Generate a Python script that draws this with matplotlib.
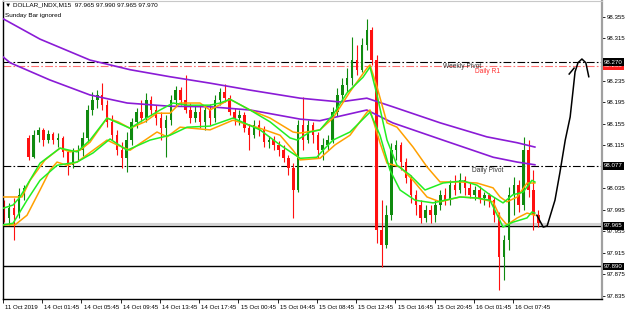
import matplotlib
matplotlib.use("Agg")
import matplotlib.pyplot as plt
import matplotlib.transforms as mtransforms

plt.rcParams['font.family'] = ['Liberation Sans', 'DejaVu Sans']

# DOLLAR_INDX M15 candles (two bars per drawn candle)
opens = [98.004, 97.980, 97.998, 97.985, 98.023, 98.129, 98.093, 98.134, 98.144, 98.125,
         98.136, 98.125, 98.129, 98.103, 98.078, 98.103, 98.106, 98.129, 98.181, 98.200,
         98.209, 98.190, 98.159, 98.134, 98.106, 98.091, 98.125, 98.159, 98.177, 98.166,
         98.200, 98.181, 98.166, 98.147, 98.162, 98.200, 98.218, 98.200, 98.181, 98.166,
         98.177, 98.159, 98.181, 98.166, 98.200, 98.215, 98.203, 98.177, 98.166, 98.172,
         98.147, 98.134, 98.153, 98.144, 98.121, 98.125, 98.116, 98.106, 98.091, 98.073,
         98.032, 98.153, 98.125, 98.153, 98.134, 98.106, 98.116, 98.125, 98.177, 98.209,
         98.228, 98.241, 98.274, 98.256, 98.302, 98.330, 98.274, 97.957, 97.929, 97.985,
         98.106, 98.116, 98.084, 98.054, 98.023, 98.004, 97.980, 97.995, 97.985, 98.004,
         98.023, 98.013, 98.041, 98.032, 98.050, 98.036, 98.023, 98.032, 98.017, 98.023,
         98.013, 97.985, 97.907, 97.939, 98.023, 98.041, 98.004, 98.106, 98.032, 97.985]
highs = [98.013, 98.008, 98.017, 98.036, 98.041, 98.134, 98.144, 98.149, 98.147, 98.144,
         98.140, 98.138, 98.133, 98.106, 98.110, 98.116, 98.140, 98.190, 98.215, 98.218,
         98.231, 98.200, 98.172, 98.144, 98.121, 98.140, 98.166, 98.185, 98.200, 98.213,
         98.207, 98.190, 98.177, 98.172, 98.209, 98.226, 98.224, 98.246, 98.194, 98.190,
         98.190, 98.190, 98.192, 98.209, 98.222, 98.229, 98.209, 98.185, 98.181, 98.177,
         98.155, 98.162, 98.162, 98.151, 98.133, 98.133, 98.123, 98.116, 98.097, 98.082,
         98.162, 98.205, 98.162, 98.159, 98.140, 98.129, 98.134, 98.187, 98.222, 98.241,
         98.259, 98.317, 98.302, 98.315, 98.351, 98.336, 98.283, 98.013, 98.004, 98.120,
         98.125, 98.121, 98.091, 98.060, 98.032, 98.013, 98.004, 98.004, 98.013, 98.032,
         98.036, 98.050, 98.060, 98.064, 98.058, 98.045, 98.039, 98.039, 98.028, 98.026,
         98.019, 97.991, 97.948, 98.037, 98.056, 98.050, 98.131, 98.125, 98.069, 97.995]
lows = [97.972, 97.967, 97.939, 97.980, 98.013, 98.088, 98.091, 98.121, 98.114, 98.120,
        98.118, 98.112, 98.093, 98.060, 98.073, 98.088, 98.095, 98.121, 98.172, 98.185,
        98.181, 98.149, 98.125, 98.097, 98.073, 98.065, 98.116, 98.147, 98.159, 98.159,
        98.172, 98.153, 98.125, 98.093, 98.153, 98.190, 98.190, 98.175, 98.157, 98.159,
        98.147, 98.144, 98.153, 98.159, 98.190, 98.196, 98.172, 98.153, 98.153, 98.140,
        98.106, 98.129, 98.133, 98.112, 98.110, 98.106, 98.095, 98.084, 98.060, 97.980,
        98.028, 98.106, 98.120, 98.120, 98.091, 98.088, 98.106, 98.120, 98.170, 98.200,
        98.215, 98.228, 98.246, 98.252, 98.293, 98.265, 97.933, 97.888, 97.924, 97.976,
        98.088, 98.069, 98.045, 98.008, 97.985, 97.970, 97.972, 97.970, 97.972, 97.995,
        98.004, 98.004, 98.023, 98.026, 98.023, 98.017, 98.013, 98.008, 98.004, 98.000,
        97.972, 97.845, 97.864, 97.920, 97.985, 97.991, 97.995, 98.019, 97.957, 97.963]
closes = [97.980, 97.998, 97.985, 98.023, 98.036, 98.093, 98.134, 98.144, 98.125, 98.136,
          98.125, 98.129, 98.103, 98.078, 98.103, 98.106, 98.129, 98.181, 98.200, 98.209,
          98.190, 98.159, 98.134, 98.106, 98.091, 98.125, 98.159, 98.177, 98.166, 98.200,
          98.181, 98.166, 98.147, 98.162, 98.200, 98.218, 98.200, 98.181, 98.166, 98.177,
          98.159, 98.181, 98.166, 98.200, 98.215, 98.203, 98.177, 98.166, 98.172, 98.147,
          98.134, 98.153, 98.144, 98.121, 98.125, 98.116, 98.106, 98.091, 98.073, 98.032,
          98.153, 98.125, 98.153, 98.134, 98.106, 98.116, 98.125, 98.177, 98.209, 98.228,
          98.241, 98.274, 98.256, 98.302, 98.330, 98.274, 97.957, 97.929, 97.985, 98.106,
          98.116, 98.084, 98.054, 98.023, 98.004, 97.980, 97.995, 97.985, 98.004, 98.023,
          98.013, 98.041, 98.032, 98.050, 98.036, 98.023, 98.032, 98.017, 98.023, 98.013,
          97.985, 97.907, 97.939, 98.023, 98.041, 98.004, 98.106, 98.032, 97.985, 97.970]

# moving average channels, vertices (candle index, price)
purple_hi_x = [-0.25, 7.3, 17.5, 25.7, 33.8, 42.0, 50.2, 60.4, 68.5, 74.0, 79.3, 89.0, 98.5, 104.7, 108.3]
purple_hi_y = [98.351, 98.313, 98.274, 98.256, 98.243, 98.231, 98.218, 98.203, 98.196, 98.203,
               98.187, 98.157, 98.131, 98.120, 98.112]
purple_lo_x = [-0.25, 1.2, 9.3, 17.5, 25.1, 33.8, 42.0, 50.2, 60.4, 64.4, 74.0, 79.3, 89.5, 99.8, 104.7, 108.3]
purple_lo_y = [98.280, 98.269, 98.237, 98.209, 98.194, 98.188, 98.187, 98.181, 98.164, 98.161,
               98.181, 98.157, 98.125, 98.093, 98.084, 98.079]

green_hi_x = [-0.24, 1.8, 3.22, 7.31, 11.39, 14.86, 17.51, 20.98, 25.67, 28.33, 31.8, 34.45, 37.31,
              42.0, 44.04, 46.08, 50.16, 54.24, 58.33, 59.76, 62.41, 64.45, 67.1, 69.96, 73.22, 74.65,
              76.08, 78.12, 80.16, 82.82, 85.88, 89.55, 93.63, 96.49, 99.14, 101.8, 103.8, 105.9, 107.7, 108.3]
green_hi_y = [97.998, 98.004, 98.019, 98.082, 98.110, 98.103, 98.125, 98.166, 98.147, 98.162, 98.181,
              98.194, 98.190, 98.190, 98.194, 98.201, 98.181, 98.159, 98.129, 98.125, 98.140, 98.144,
              98.172, 98.213, 98.242, 98.261, 98.209, 98.125, 98.078, 98.060, 98.032, 98.045, 98.049,
              98.041, 98.023, 98.008, 98.023, 98.028, 98.050, 98.047]
green_lo_x = [-0.24, 1.8, 4.65, 7.31, 10.78, 14.86, 18.12, 21.59, 25.06, 29.76, 33.84, 37.31, 42.0,
              46.69, 52.2, 56.3, 60.4, 63.8, 65.06, 67.1, 70.57, 74.65, 76.69, 78.73, 80.78, 83.84,
              87.51, 89.96, 93.02, 96.49, 99.14, 101.8, 103.8, 106.7, 107.7, 108.3]
green_lo_y = [97.967, 97.970, 98.013, 98.050, 98.078, 98.084, 98.101, 98.127, 98.106, 98.125, 98.134,
              98.149, 98.151, 98.166, 98.144, 98.116, 98.091, 98.093, 98.106, 98.125, 98.140, 98.177,
              98.134, 98.069, 98.032, 98.013, 98.008, 98.013, 98.019, 98.017, 98.013, 97.963, 97.972,
              97.980, 97.991, 97.989]

orange_hi_x = [-0.24, 3.63, 5.27, 8.33, 11.39, 13.43, 15.47, 17.51, 20.98, 23.22, 25.67, 28.73, 31.18,
               33.84, 35.88, 39.96, 42.0, 46.08, 50.16, 54.24, 58.94, 60.37, 64.45, 67.1, 70.57, 74.04,
               74.65, 76.08, 78.12, 80.16, 83.43, 86.29, 88.94, 93.02, 96.49, 99.76, 101.2, 102.6,
               104.7, 106.7, 108.3]
orange_hi_y = [98.019, 98.019, 98.050, 98.088, 98.110, 98.103, 98.106, 98.121, 98.166, 98.159, 98.147,
               98.159, 98.175, 98.175, 98.194, 98.194, 98.181, 98.201, 98.181, 98.166, 98.140, 98.138,
               98.144, 98.166, 98.215, 98.259, 98.265, 98.224, 98.157, 98.149, 98.112, 98.075, 98.047,
               98.047, 98.045, 98.036, 98.019, 98.010, 98.019, 98.045, 98.045]
orange_lo_x = [-0.24, 2.2, 4.65, 7.31, 9.35, 10.78, 12.82, 14.86, 20.98, 23.02, 25.67, 31.18, 33.22,
               35.88, 42.0, 46.69, 52.2, 56.3, 58.94, 60.37, 64.45, 67.51, 70.57, 74.04, 74.65, 76.69,
               78.12, 80.78, 83.43, 86.29, 88.94, 93.02, 96.49, 99.76, 101.2, 102.6, 104.7, 106.7, 108.3]
orange_lo_y = [97.967, 97.967, 97.985, 98.032, 98.069, 98.084, 98.078, 98.084, 98.125, 98.116, 98.106,
               98.140, 98.131, 98.149, 98.144, 98.162, 98.147, 98.134, 98.106, 98.088, 98.091, 98.116,
               98.134, 98.177, 98.181, 98.120, 98.082, 98.075, 98.050, 98.019, 98.010, 98.019, 98.017,
               98.010, 97.982, 97.967, 97.980, 97.989, 97.985]

# hand drawn projection
curve_x = [108.7, 110.0, 110.8, 111.8, 112.4, 113.4, 114.5, 115.5, 116.1, 116.5, 117.1, 117.9, 118.7, 119.3]
curve_y = [97.985, 97.963, 97.965, 97.995, 98.013, 98.064, 98.125, 98.168, 98.218, 98.252,
           98.269, 98.276, 98.269, 98.243]
hook_x = [115.3, 116.3]
hook_y = [98.248, 98.259]

# levels
weekly_pivot = 98.270
daily_r1 = 98.263
daily_pivot = 98.077
support_1 = 97.965
support_2 = 97.890

price_ticks = [97.835, 97.875, 97.915, 97.955, 97.995, 98.035, 98.075, 98.115,
               98.155, 98.195, 98.235, 98.275, 98.315, 98.355]
# labels hidden under the level boxes in the reference
price_labels = ['97.835', '97.875', '97.915', '97.955', '97.995', '98.035', '', '98.115',
                '98.155', '98.195', '98.235', '', '98.315', '98.355']
time_tick_pos = [-0.25, 7.76, 15.77, 23.78, 31.79, 39.8, 47.81, 55.82, 63.83, 71.84,
                 79.85, 87.86, 95.87, 103.88]
time_labels = ['11 Oct 2019', '14 Oct 01:45', '14 Oct 05:45', '14 Oct 09:45', '14 Oct 13:45',
               '14 Oct 17:45', '15 Oct 00:45', '15 Oct 04:45', '15 Oct 08:45', '15 Oct 12:45',
               '15 Oct 16:45', '15 Oct 20:45', '16 Oct 01:45', '16 Oct 07:45']

fig = plt.figure(figsize=(6.25, 3.14), dpi=100)
ax = fig.add_axes([3 / 625, 15 / 314, 599 / 625, 298 / 314])

# candles
idx = list(range(len(closes)))
cols = ['#0f8a0f' if c >= o else '#ff1010' for o, c in zip(opens, closes)]
ax.vlines(idx, lows, highs, colors=cols, linewidth=0.8, zorder=2)
bottoms = [min(o, c) for o, c in zip(opens, closes)]
heights = [max(abs(c - o), 0.0015) for o, c in zip(opens, closes)]
ax.bar(idx, heights, bottom=bottoms, width=0.5, color=cols, linewidth=0, zorder=2)

# indicators
ax.plot(purple_hi_x, purple_hi_y, color='#8a1bd6', lw=1.2, zorder=3)
ax.plot(purple_lo_x, purple_lo_y, color='#8a1bd6', lw=1.2, zorder=3)
ax.plot(orange_hi_x, orange_hi_y, color='#ffa000', lw=1.1, zorder=3)
ax.plot(orange_lo_x, orange_lo_y, color='#ffa000', lw=1.1, zorder=3)
ax.plot(green_hi_x, green_hi_y, color='#22ee22', lw=1.1, zorder=3)
ax.plot(green_lo_x, green_lo_y, color='#22ee22', lw=1.1, zorder=3)

# levels
dd = (7, 2, 1.5, 2)
ax.axhline(weekly_pivot, color='black', lw=0.8, dashes=dd, zorder=1)
ax.axhline(daily_r1, color='#ff7070', lw=0.8, dashes=dd, zorder=1)
ax.axhline(daily_pivot, color='black', lw=0.8, dashes=dd, zorder=1)
ax.axhline(support_1 + 0.003, color='#d4d4d4', lw=1.5, zorder=1)
ax.axhline(support_1, color='black', lw=1.0, zorder=1)
ax.axhline(support_2, color='black', lw=1.0, zorder=1)

ax.text(89.5, weekly_pivot - 0.001, 'Weekly Pivot', fontsize=4.8, color='#333333', va='top', ha='left')
ax.text(96.1, daily_r1 - 0.003, 'Daily R1', fontsize=4.8, color='#ff3030', va='top', ha='left')
ax.text(95.5, daily_pivot - 0.002, 'Daily Pivot', fontsize=4.8, color='#333333', va='top', ha='left')

ax.plot(curve_x, curve_y, color='black', lw=1.1, zorder=4)
ax.plot(hook_x, hook_y, color='black', lw=1.1, zorder=4)

ax.set_xlim(-0.25, 122.0)
ax.set_ylim(97.829, 98.384)

# price scale on the right
ax.yaxis.tick_right()
ax.set_yticks(price_ticks)
ax.set_yticklabels(price_labels, fontsize=4.4)
ax.tick_params(axis='y', direction='out', length=2, width=0.6, pad=1.5)

ax.set_xticks(time_tick_pos)
ax.set_xticklabels(time_labels, fontsize=4.4)
ax.tick_params(axis='x', direction='out', length=3, width=0.6, pad=1.5)
off = mtransforms.ScaledTranslation(1.5 / 72, 0, fig.dpi_scale_trans)
for lab in ax.get_xticklabels():
    lab.set_horizontalalignment('left')
    lab.set_transform(lab.get_transform() + off)

trans = mtransforms.blended_transform_factory(ax.transAxes, ax.transData)
box_specs = [(daily_r1, '#ff2020', 3), (weekly_pivot, 'black', 4), (daily_pivot, 'black', 4),
             (support_1, 'black', 4), (support_2, 'black', 4)]
for lvl, fc, z in box_specs:
    ax.text(1.003, lvl, '%.3f' % lvl, transform=trans, fontsize=4.4, color='white',
            ha='left', va='center', clip_on=False, zorder=z,
            bbox=dict(facecolor=fc, edgecolor='none', pad=0.9))

for side in ['left', 'bottom']:
    ax.spines[side].set_color('black')
    ax.spines[side].set_linewidth(1.0)
ax.spines['right'].set_color('#a0a0a0')
ax.spines['right'].set_linewidth(1.6)
ax.spines['top'].set_color('#c8c8c8')

fig.text(5 / 625, 1 - 5 / 314, '\u25bc DOLLAR_INDX,M15  97.965 97.990 97.965 97.970',
         fontsize=4.6, va='center', ha='left')
fig.text(5 / 625, 1 - 15.5 / 314, 'Sunday Bar ignored', fontsize=4.6, va='center', ha='left')

fig.savefig('out.png', dpi=100)
